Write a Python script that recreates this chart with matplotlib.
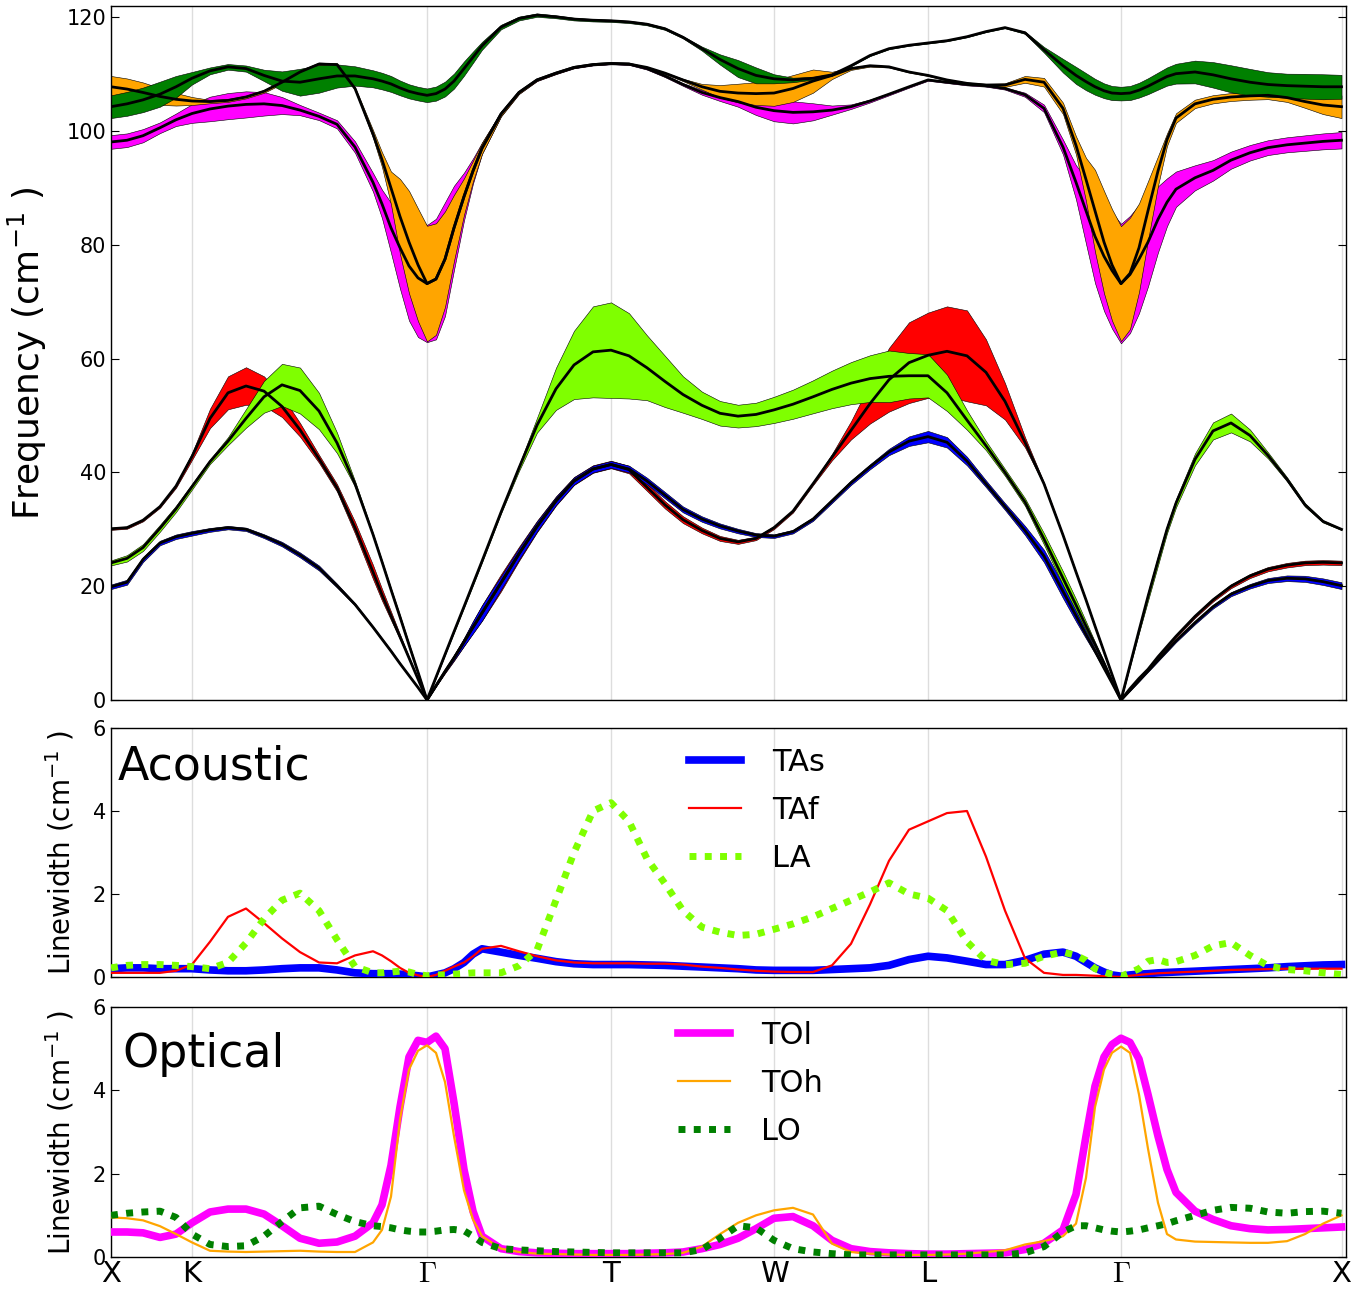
import matplotlib
matplotlib.use("Agg")
import matplotlib.pyplot as plt
import numpy as np

# ---------------- data ----------------
# path coordinate of each sample (arbitrary length units along X-K-G-T-W-L-G-X)
kpath = [0, 16, 32, 49, 65, 81,
         99, 117, 135, 153, 171, 189, 208, 226, 244, 262, 271, 280, 289, 298, 307, 316,
         325, 334, 343, 353, 362, 371, 390, 408, 426, 445, 463, 482, 500,
         518, 536, 554, 572, 591, 609, 627, 645, 663,
         682, 702, 721, 740, 759, 778, 798, 817,
         836, 856, 875, 894, 914, 933, 952, 965, 975, 984, 993, 1001, 1010,
         1019, 1028, 1037, 1047, 1056, 1065, 1084, 1102, 1120, 1139, 1157, 1176, 1194, 1212, 1230.5]

sym_pos = [0, 81, 316, 500, 663, 817, 1010, 1230.5]
sym_labels = ["X", "K", r"$\Gamma$", "T", "W", "L", r"$\Gamma$", "X"]

# frequencies (cm^-1)
freq_TAs = [19.9, 20.7, 24.7, 27.6, 28.7, 29.3,
            29.9, 30.3, 30.0, 28.8, 27.4, 25.5, 23.2, 20.1, 16.8, 12.8, 10.7, 8.6, 6.4, 4.3, 2.2, 0.0,
            2.5, 5.0, 7.4, 10.2, 12.8, 15.3, 20.6, 25.7, 30.5, 35.0, 38.5, 40.6, 41.4,
            40.6, 38.5, 36.0, 33.5, 31.8, 30.6, 29.7, 29.0, 28.8,
            29.6, 31.8, 35.0, 38.2, 41.0, 43.6, 45.5, 46.3,
            45.3, 42.0, 38.0, 34.0, 29.8, 25.3, 19.1, 14.8, 11.5, 8.6, 5.6, 3.0, 0.0,
            1.7, 3.4, 5.1, 7.0, 8.7, 10.4, 13.6, 16.4, 18.6, 20.0, 21.0, 21.4, 21.3, 20.8, 20.1]
freq_TAf = [30.1, 30.3, 31.6, 34.0, 37.6, 42.8,
            49.5, 54.0, 55.2, 54.3, 51.6, 47.5, 42.4, 37.3, 30.3, 22.5, 18.5, 14.8, 11.1, 7.4, 3.7, 0.0,
            2.5, 5.0, 7.4, 10.2, 12.8, 15.3, 20.6, 25.7, 30.5, 35.0, 38.5, 40.6, 41.4,
            40.5, 37.4, 34.3, 31.7, 29.8, 28.4, 27.8, 28.4, 30.3,
            33.2, 38.0, 42.7, 47.4, 52.1, 56.3, 59.3, 60.6,
            61.3, 60.5, 57.6, 52.5, 45.3, 38.0, 29.0, 22.5, 17.6, 13.0, 8.5, 4.5, 0.0,
            2.0, 3.8, 5.4, 7.6, 9.4, 11.2, 14.7, 17.6, 20.0, 21.8, 23.0, 23.7, 24.1, 24.2, 24.1]
freq_LA = [24.1, 24.9, 26.8, 30.2, 33.6, 37.5,
           41.9, 45.5, 49.5, 53.3, 55.4, 54.4, 50.8, 45.2, 38.0, 29.1, 24.3, 19.4, 14.6, 9.7, 4.9, 0.0,
           4.0, 8.0, 12.0, 16.4, 20.4, 24.4, 33.0, 40.8, 48.3, 54.7, 58.9, 61.2, 61.5,
           60.5, 58.4, 56.0, 53.7, 51.8, 50.4, 49.9, 50.2, 51.0,
           52.0, 53.3, 54.6, 55.7, 56.5, 56.9, 57.0, 57.0,
           54.0, 49.2, 44.7, 40.0, 34.8, 28.3, 21.4, 16.7, 13.0, 9.8, 6.5, 3.3, 0.0,
           6.1, 12.2, 18.2, 24.5, 30.0, 34.6, 42.3, 47.3, 48.7, 46.5, 43.0, 38.8, 34.3, 31.4, 30.0]
freq_TOl = [98.1, 98.4, 99.2, 100.6, 102.0, 103.1,
            103.9, 104.4, 104.7, 104.8, 104.5, 103.7, 102.6, 101.2, 97.2, 91.0, 87.2, 83.0, 79.5, 76.3, 74.2, 73.2,
            74.0, 77.5, 83.0, 88.5, 93.0, 97.0, 103.0, 106.8, 109.0, 110.2, 111.2, 111.7, 111.9,
            111.8, 111.0, 109.7, 108.2, 106.8, 105.9, 105.2, 104.2, 103.6,
            103.3, 103.4, 103.7, 104.3, 105.3, 106.5, 107.8, 109.0,
            108.6, 108.2, 108.0, 107.5, 106.4, 104.0, 97.2, 91.0, 86.0, 81.5, 78.0, 75.5, 73.2,
            74.8, 77.5, 80.5, 84.5, 87.5, 89.8, 91.8, 93.1, 94.9, 96.2, 97.1, 97.6, 97.9, 98.2, 98.4]
freq_TOh = [107.8, 107.4, 106.8, 106.1, 105.6, 105.3,
            105.2, 105.4, 106.0, 107.0, 108.6, 110.4, 111.8, 111.7, 107.5, 99.5, 95.0, 90.0, 85.0, 80.5, 76.5, 73.2,
            74.0, 77.5, 83.0, 88.5, 93.0, 97.0, 103.0, 106.8, 109.0, 110.2, 111.2, 111.7, 111.9,
            111.8, 111.2, 110.2, 109.0, 107.8, 107.0, 106.7, 106.6, 106.7,
            107.5, 108.8, 109.8, 111.0, 111.5, 111.3, 110.4, 109.8,
            109.0, 108.4, 108.1, 108.1, 109.1, 108.6, 104.0, 97.5, 91.5, 86.0, 80.5, 76.5, 73.2,
            75.0, 79.5, 86.0, 93.0, 98.5, 102.3, 104.8, 105.6, 106.0, 106.2, 106.3, 105.9, 105.2, 104.6, 104.3]
freq_LO = [104.3, 104.8, 105.5, 106.5, 107.8, 109.3,
           110.6, 111.3, 111.0, 109.8, 108.8, 108.6, 109.2, 109.7, 109.7, 109.2, 108.8, 108.3, 107.6, 107.0, 106.6, 106.3,
           106.6, 107.4, 108.8, 111.0, 113.0, 115.0, 118.3, 119.8, 120.4, 120.1, 119.7, 119.5, 119.4,
           119.2, 118.8, 118.0, 116.5, 114.5, 112.6, 111.0, 109.8, 109.2,
           109.0, 109.3, 109.9, 111.5, 113.3, 114.5, 115.1, 115.5,
           115.9, 116.6, 117.5, 118.2, 117.3, 114.3, 111.5, 109.8, 108.7, 107.8, 107.1, 106.7, 106.6,
           106.7, 107.2, 107.9, 108.8, 109.6, 110.1, 110.4, 109.9, 109.2, 108.6, 108.2, 108.0, 107.9, 107.8, 107.8]

# linewidths (cm^-1)
lw_TAs = [0.20, 0.22, 0.22, 0.20, 0.20, 0.20,
          0.17, 0.15, 0.15, 0.17, 0.20, 0.22, 0.22, 0.17, 0.10, 0.08, 0.08, 0.08, 0.07, 0.05, 0.03, 0.00,
          0.05, 0.10, 0.20, 0.35, 0.55, 0.68, 0.60, 0.52, 0.45, 0.37, 0.32, 0.30, 0.30,
          0.30, 0.29, 0.28, 0.26, 0.24, 0.22, 0.20, 0.17, 0.16,
          0.16, 0.16, 0.18, 0.20, 0.22, 0.28, 0.42, 0.50,
          0.46, 0.38, 0.30, 0.30, 0.40, 0.55, 0.60, 0.50, 0.35, 0.22, 0.12, 0.05, 0.02,
          0.05, 0.07, 0.08, 0.10, 0.11, 0.12, 0.14, 0.16, 0.18, 0.20, 0.22, 0.25, 0.27, 0.29, 0.30]
lw_TAf = [0.10, 0.10, 0.10, 0.10, 0.15, 0.30,
          0.85, 1.45, 1.65, 1.30, 0.93, 0.60, 0.35, 0.33, 0.52, 0.62, 0.52, 0.38, 0.22, 0.10, 0.04, 0.00,
          0.05, 0.15, 0.25, 0.35, 0.50, 0.68, 0.75, 0.62, 0.50, 0.40, 0.35, 0.33, 0.33,
          0.33, 0.32, 0.32, 0.30, 0.25, 0.22, 0.18, 0.15, 0.13,
          0.12, 0.12, 0.28, 0.80, 1.75, 2.80, 3.55, 3.75,
          3.95, 4.00, 2.90, 1.60, 0.45, 0.10, 0.05, 0.05, 0.04, 0.03, 0.02, 0.01, 0.00,
          0.03, 0.05, 0.07, 0.09, 0.10, 0.11, 0.13, 0.15, 0.17, 0.18, 0.19, 0.20, 0.20, 0.20, 0.20]
lw_LA = [0.22, 0.28, 0.30, 0.30, 0.28, 0.25,
         0.20, 0.35, 0.82, 1.40, 1.85, 2.02, 1.60, 0.90, 0.25, 0.10, 0.10, 0.12, 0.14, 0.12, 0.06, 0.03,
         0.05, 0.05, 0.07, 0.08, 0.10, 0.10, 0.10, 0.27, 0.65, 1.85, 3.00, 4.00, 4.20,
         3.75, 2.85, 2.25, 1.60, 1.20, 1.08, 1.00, 1.03, 1.15,
         1.28, 1.45, 1.65, 1.85, 2.05, 2.27, 2.00, 1.90,
         1.60, 0.85, 0.40, 0.30, 0.33, 0.50, 0.60, 0.52, 0.40, 0.20, 0.12, 0.06, 0.02,
         0.10, 0.20, 0.38, 0.42, 0.35, 0.37, 0.52, 0.75, 0.83, 0.52, 0.27, 0.18, 0.15, 0.10, 0.06]
lw_TOl = [0.60, 0.60, 0.58, 0.47, 0.55, 0.82,
          1.08, 1.15, 1.15, 1.03, 0.75, 0.45, 0.33, 0.36, 0.50, 0.82, 1.25, 2.20, 3.60, 4.80, 5.20, 5.15,
          5.30, 5.00, 3.70, 2.10, 1.10, 0.50, 0.20, 0.13, 0.10, 0.09, 0.08, 0.08, 0.08,
          0.08, 0.09, 0.10, 0.12, 0.20, 0.30, 0.45, 0.68, 0.93,
          0.97, 0.75, 0.40, 0.20, 0.13, 0.10, 0.08, 0.07,
          0.07, 0.08, 0.09, 0.10, 0.18, 0.33, 0.65, 1.50, 2.90, 4.10, 4.80, 5.10, 5.25,
          5.15, 4.75, 3.90, 2.90, 2.10, 1.55, 1.10, 0.90, 0.75, 0.68, 0.65, 0.66, 0.68, 0.70, 0.72]
lw_TOh = [0.95, 0.93, 0.88, 0.74, 0.55, 0.35,
          0.15, 0.13, 0.12, 0.13, 0.14, 0.15, 0.13, 0.12, 0.12, 0.35, 0.65, 1.45, 3.30, 4.50, 4.95, 5.08,
          4.90, 4.20, 2.90, 1.60, 0.90, 0.50, 0.20, 0.12, 0.08, 0.07, 0.06, 0.05, 0.05,
          0.05, 0.06, 0.07, 0.10, 0.25, 0.55, 0.82, 1.00, 1.12,
          1.18, 1.02, 0.32, 0.12, 0.08, 0.06, 0.05, 0.05,
          0.06, 0.08, 0.12, 0.16, 0.30, 0.38, 0.50, 0.80, 1.90, 3.60, 4.50, 4.90, 5.05,
          4.90, 3.90, 2.60, 1.30, 0.55, 0.42, 0.37, 0.36, 0.35, 0.34, 0.34, 0.38, 0.55, 0.80, 1.00]
lw_LO = [1.00, 1.05, 1.08, 1.10, 0.95, 0.55,
         0.30, 0.25, 0.27, 0.50, 0.85, 1.18, 1.22, 1.02, 0.85, 0.75, 0.73, 0.70, 0.65, 0.62, 0.60, 0.60,
         0.62, 0.65, 0.66, 0.63, 0.50, 0.35, 0.20, 0.17, 0.15, 0.13, 0.12, 0.11, 0.10,
         0.10, 0.10, 0.10, 0.10, 0.18, 0.45, 0.75, 0.70, 0.40,
         0.20, 0.12, 0.08, 0.05, 0.05, 0.05, 0.05, 0.05,
         0.05, 0.05, 0.05, 0.05, 0.10, 0.25, 0.60, 0.75, 0.75, 0.70, 0.65, 0.62, 0.60,
         0.62, 0.65, 0.70, 0.75, 0.80, 0.87, 1.00, 1.12, 1.19, 1.17, 1.08, 1.05, 1.09, 1.10, 1.05]

branch_names = ["TAs", "TAf", "LA", "TOl", "TOh", "LO"]

# ---------------- styling ----------------
col = {"TAs": "#0000ff", "TAf": "#ff0000", "LA": "#7fff00",
       "TOl": "#ff00ff", "TOh": "#ffa500", "LO": "#008000"}
band_scale = 2.0  # band half-width = band_scale * linewidth

k = np.array(kpath, dtype=float)
freqs = {"TAs": freq_TAs, "TAf": freq_TAf, "LA": freq_LA,
         "TOl": freq_TOl, "TOh": freq_TOh, "LO": freq_LO}
lws = {"TAs": lw_TAs, "TAf": lw_TAf, "LA": lw_LA,
       "TOl": lw_TOl, "TOh": lw_TOh, "LO": lw_LO}

W_PX, H_PX = 1369, 1291
fig = plt.figure(figsize=(W_PX / 100, H_PX / 100), dpi=100)
left = 111 / W_PX
width = 1235 / W_PX
ax1 = fig.add_axes([left, 1 - 700 / H_PX, width, 694 / H_PX])
ax2 = fig.add_axes([left, 1 - 977 / H_PX, width, 249 / H_PX])
ax3 = fig.add_axes([left, 1 - 1257 / H_PX, width, 250 / H_PX])

# top panel: dispersion with linewidth bands
for name in ["TAf", "TAs", "LA", "TOl", "TOh", "LO"]:
    f = np.array(freqs[name])
    g = np.array(lws[name])
    ax1.fill_between(k, f - band_scale * g, f + band_scale * g, facecolor=col[name],
                     edgecolor="k", linewidth=0.4, zorder=2)
for name in branch_names:
    ax1.plot(k, freqs[name], color="k", lw=2.0, zorder=3)

ax1.set_ylim(0, 122)
ax1.set_yticks([0, 20, 40, 60, 80, 100, 120])
ax1.set_ylabel(r"Frequency (cm$^{-1}$ )", fontsize=26)
ax1.yaxis.set_label_coords(-0.050, 0.5)

# acoustic linewidths
ax2.plot(k, lw_TAs, color=col["TAs"], lw=5.5, label="TAs", zorder=3)
ax2.plot(k, lw_TAf, color=col["TAf"], lw=1.6, label="TAf", zorder=4)
ax2.plot(k, lw_LA, color=col["LA"], lw=5, ls=(0, (1, 1.2)), label="LA", zorder=5)
ax2.text(0.005, 0.935, "Acoustic", transform=ax2.transAxes, fontsize=33, va="top", ha="left")
ax2.legend(loc="upper left", bbox_to_anchor=(0.446, 1.03), frameon=False, fontsize=22,
           handlelength=1.7, handletextpad=1.0, labelspacing=0.62)

# optical linewidths
ax3.plot(k, lw_TOl, color=col["TOl"], lw=5.5, label="TOl", zorder=3)
ax3.plot(k, lw_TOh, color=col["TOh"], lw=1.6, label="TOh", zorder=4)
ax3.plot(k, lw_LO, color=col["LO"], lw=5, ls=(0, (1, 1.2)), label="LO", zorder=5)
ax3.text(0.009, 0.9, "Optical", transform=ax3.transAxes, fontsize=33, va="top", ha="left")
ax3.legend(loc="upper left", bbox_to_anchor=(0.437, 1.055), frameon=False, fontsize=22,
           handlelength=1.7, handletextpad=1.0, labelspacing=0.62)

for ax in (ax2, ax3):
    ax.set_ylim(0, 6)
    ax.set_yticks([0, 2, 4, 6])
    ax.set_ylabel(r"Linewidth (cm$^{-1}$ )", fontsize=20)
    ax.yaxis.set_label_coords(-0.028, 0.5)

for ax in (ax1, ax2, ax3):
    ax.set_xlim(0, 1235)
    for xp in sym_pos:
        ax.axvline(xp, color="#dddddd", lw=1.0, zorder=0)
    ax.set_xticks(sym_pos)
    ax.tick_params(axis="x", length=0)
    ax.tick_params(axis="y", direction="in", length=6, right=True, labelsize=15)
    for s in ax.spines.values():
        s.set_linewidth(1.0)

ax1.set_xticklabels([])
ax2.set_xticklabels([])
ax3.set_xticklabels(sym_labels, fontsize=21)
for t in ax3.get_xticklabels():
    t.set_math_fontfamily("cm")
ax3.tick_params(axis="x", pad=2)

fig.savefig("out.png", dpi=100)
